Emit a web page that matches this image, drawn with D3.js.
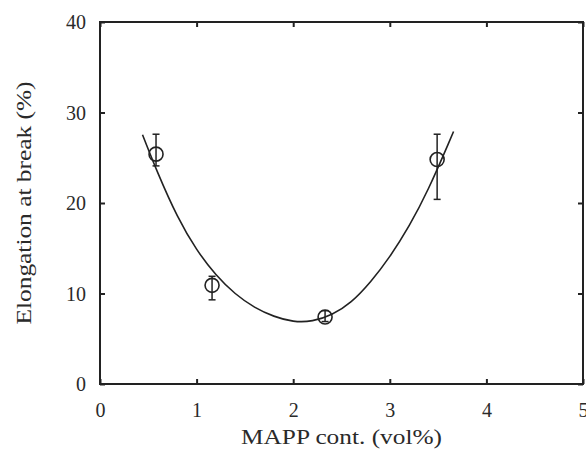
<!DOCTYPE html>
<html>
<head>
<meta charset="utf-8">
<script src="https://cdn.jsdelivr.net/npm/d3@7"></script>
<style>
	body { margin: 0; background: #fff; }
	text { font-family: "Liberation Serif", serif; fill: #2a2a2a; }
</style>
</head>
<body>
<div class="chart"></div>
<script>
// data
const mappCont = [0.58, 1.16, 2.33, 3.49];
const elongation = [25.4, 10.9, 7.4, 24.8];
const errLow = [24.1, 9.3, 6.9, 20.4];
const errHigh = [27.6, 11.9, 8.1, 27.6];

// fitted curve as drawn
const fitX = [0.44, 0.6, 0.8, 1.0, 1.2, 1.4, 1.6, 1.8, 2.0, 2.2, 2.4, 2.6, 2.8, 3.0, 3.2, 3.4, 3.6, 3.66];
const fitY = [27.55, 23.3, 18.6, 14.9, 12.1, 10.0, 8.5, 7.5, 6.95, 7.0, 7.7, 9.1, 11.3, 14.1, 17.5, 21.6, 26.4, 27.9];

const xTicks = [0, 1, 2, 3, 4, 5];
const yTicks = [0, 10, 20, 30, 40];

const margin = { top: 22, right: 3, bottom: 65, left: 100 };
const svgWidth = 586;
const svgHeight = 449;
const width = svgWidth - margin.left - margin.right;
const height = svgHeight - margin.top - margin.bottom;

const svg = d3
	.select('.chart')
	.append('svg')
	.attr('width', svgWidth)
	.attr('height', svgHeight)
	.append('g')
	.attr('transform', 'translate(' + margin.left + ',' + margin.top + ')');

const x = d3.scaleLinear().domain([0, 5]).range([0, width]);
const y = d3.scaleLinear().domain([0, 40]).range([height, 0]);

const tickLen = 5;
const col = '#222';
const fmt = d3.format('d');

// axes, ticks pointing inward
const gx = svg.append('g').attr('class', 'x axis')
	.attr('transform', 'translate(0,' + height + ')')
	.call(d3.axisBottom(x).tickValues(xTicks).tickFormat(fmt).tickSizeInner(-tickLen).tickSizeOuter(0));
gx.selectAll('.tick text').attr('y', 33).attr('dy', 0);

const gy = svg.append('g').attr('class', 'y axis')
	.call(d3.axisLeft(y).tickValues(yTicks).tickFormat(fmt).tickSizeInner(-tickLen).tickSizeOuter(0));
gy.selectAll('.tick text').attr('x', -14).attr('dy', '0.34em');

svg.append('g')
	.call(d3.axisTop(x).tickValues(xTicks).tickSizeInner(-tickLen).tickSizeOuter(0).tickFormat(''));
svg.append('g')
	.attr('transform', 'translate(' + width + ',0)')
	.call(d3.axisRight(y).tickValues(yTicks).tickSizeInner(-tickLen).tickSizeOuter(0).tickFormat(''));

svg.selectAll('.tick line').attr('stroke', col).attr('stroke-width', 2);
svg.selectAll('.domain').remove();
svg.selectAll('.tick text').style('font-size', '20px').style('font-family', '"Liberation Serif", serif').attr('fill', '#2a2a2a');

// frame
svg.append('rect')
	.attr('width', width)
	.attr('height', height)
	.attr('fill', 'none')
	.attr('stroke', col)
	.attr('stroke-width', 2);

// axis titles
svg.append('text')
	.attr('x', width / 2)
	.attr('y', height + 60)
	.style('text-anchor', 'middle')
	.style('font-size', '22px')
	.attr('textLength', 201)
	.attr('lengthAdjust', 'spacingAndGlyphs')
	.text('MAPP cont. (vol%)');

svg.append('text')
	.attr('transform', 'rotate(-90)')
	.attr('x', -181)
	.attr('y', -69)
	.style('text-anchor', 'middle')
	.style('font-size', '22px')
	.attr('textLength', 243)
	.attr('lengthAdjust', 'spacingAndGlyphs')
	.text('Elongation at break (%)');

// fit curve
const fitLine = d3.line().x((d) => x(d[0])).y((d) => y(d[1])).curve(d3.curveNatural);
svg.append('path')
	.datum(fitX.map((v, i) => [v, fitY[i]]))
	.attr('d', fitLine)
	.attr('fill', 'none')
	.attr('stroke', col)
	.attr('stroke-width', 1.6);

const points = mappCont.map((v, i) => ({ x: v, y: elongation[i], lo: errLow[i], hi: errHigh[i] }));

// error bars
const eb = svg.selectAll('.errbar').data(points).enter().append('g').attr('class', 'errbar')
	.attr('stroke', col).attr('stroke-width', 1.5);
eb.append('line').attr('x1', (d) => x(d.x)).attr('x2', (d) => x(d.x)).attr('y1', (d) => y(d.lo)).attr('y2', (d) => y(d.hi));
eb.append('line').attr('x1', (d) => x(d.x) - 3.5).attr('x2', (d) => x(d.x) + 3.5).attr('y1', (d) => y(d.lo)).attr('y2', (d) => y(d.lo));
eb.append('line').attr('x1', (d) => x(d.x) - 3.5).attr('x2', (d) => x(d.x) + 3.5).attr('y1', (d) => y(d.hi)).attr('y2', (d) => y(d.hi));

// points
svg.selectAll('.point')
	.data(points)
	.enter()
	.append('circle')
	.attr('class', 'point')
	.attr('r', 7)
	.attr('cx', (d) => x(d.x))
	.attr('cy', (d) => y(d.y))
	.attr('fill', 'none')
	.attr('stroke', col)
	.attr('stroke-width', 1.6);
</script>
</body>
</html>
